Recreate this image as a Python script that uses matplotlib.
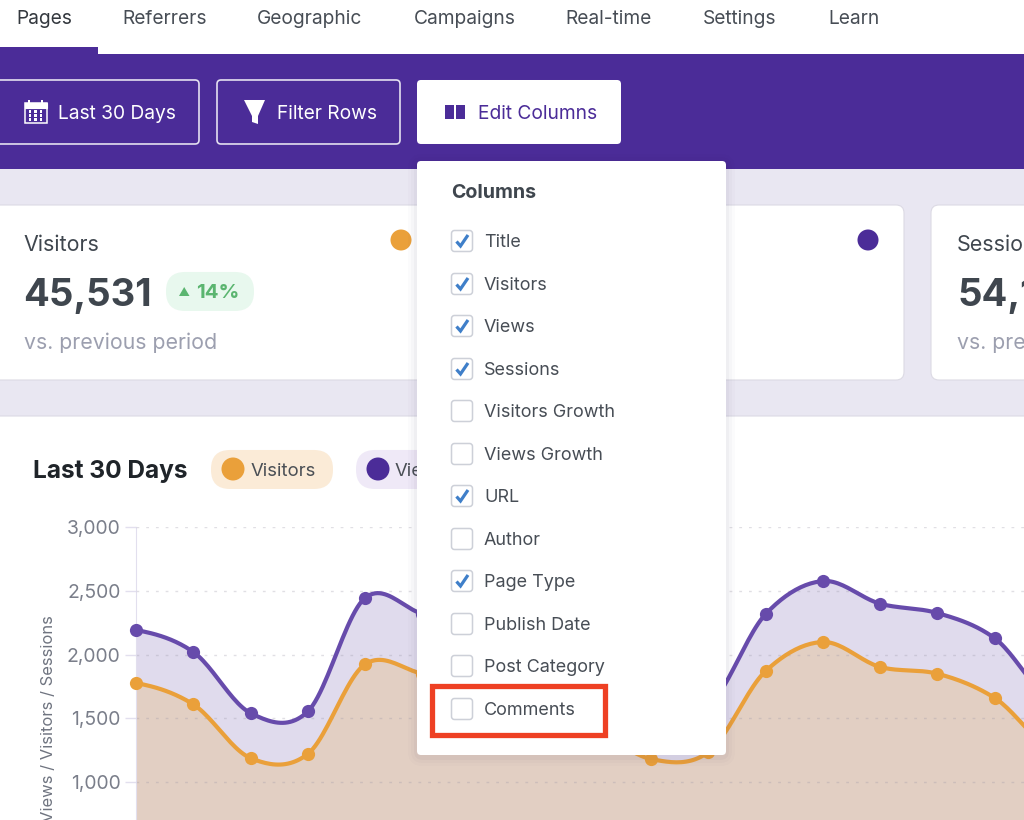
import numpy as np
import matplotlib
matplotlib.use('Agg')
import matplotlib.pyplot as plt
from matplotlib.patches import FancyBboxPatch, Rectangle, Circle, Polygon
from matplotlib.ticker import StrMethodFormatter

plt.rcParams['font.family'] = ['Inter', 'DejaVu Sans']

tabs = ['Pages', 'Referrers', 'Geographic', 'Campaigns', 'Real-time', 'Settings', 'Learn']
tab_x = [16.5, 122.5, 257, 414, 565.5, 703, 828.5]

column_names = ['Title', 'Visitors', 'Views', 'Sessions', 'Visitors Growth', 'Views Growth',
                'URL', 'Author', 'Page Type', 'Publish Date', 'Post Category', 'Comments']
column_checked = [True, True, True, True, False, False, True, False, True, False, False, False]
column_y = [241, 284, 326, 369, 411, 454, 496, 539, 581, 624, 666, 709]

# points 6-8 and 10 are behind the dropdown so they are guesses
views_values = [2192, 2020, 1541, 1553, 2443, 2320, 2200, 2000, 1750, 1500, 1590, 2318, 2576, 2398, 2325, 2127, 1640]
visitors_values = [1776, 1609, 1188, 1220, 1923, 1850, 1750, 1600, 1420, 1180, 1235, 1871, 2098, 1902, 1849, 1659, 1260]
y_ticks = [1000, 1500, 2000, 2500, 3000]

PURPLE = '#4B2C98'
LINE_PURPLE = '#674BAB'
ORANGE = '#EAA03A'
BG = '#E9E7F2'
TEXT = '#474D55'
LILAC = '#E2DFEE'


def px(size):
    return size * 0.72


def box(ax, x0, y0, x1, y1, radius=4, **kw):
    p = FancyBboxPatch((x0, y0), x1 - x0, y1 - y0, boxstyle=f'round,pad=0,rounding_size={radius}', **kw)
    ax.add_patch(p)
    return p


def label(ax, x, y, s, size, color=TEXT, weight='normal', **kw):
    ax.text(x, y, s, fontsize=px(size), color=color, fontweight=weight, va='baseline', **kw)


def smooth_curve(values, tension=0.16, steps=24):
    # bezier through the points, same look as the chart lib
    y = np.asarray(values, dtype=float)
    x = np.arange(len(y), dtype=float)
    dy = np.zeros_like(y)
    dy[1:-1] = (y[2:] - y[:-2]) * tension
    dy[0] = (y[1] - y[0]) * tension
    dy[-1] = (y[-1] - y[-2]) * tension
    xs, ys = [], []
    t = np.linspace(0, 1, steps)
    for i in range(len(y) - 1):
        p0, p1, p2, p3 = y[i], y[i] + dy[i], y[i + 1] - dy[i + 1], y[i + 1]
        ys.append((1 - t) ** 3 * p0 + 3 * (1 - t) ** 2 * t * p1 + 3 * (1 - t) * t ** 2 * p2 + t ** 3 * p3)
        xs.append(x[i] + t)
    return np.concatenate(xs), np.concatenate(ys)


# 8.2 * 100 floors to 819 px, so nudge the height
fig = plt.figure(figsize=(10.24, 8.2001), dpi=100)
fig.patch.set_facecolor(BG)


def page_axes(z):
    a = fig.add_axes([0, 0, 1, 1], zorder=z)
    a.set_xlim(0, 1024)
    a.set_ylim(820, 0)
    a.axis('off')
    a.patch.set_alpha(0)
    return a


ui = page_axes(0)

# header and tabs
ui.add_patch(Rectangle((0, 0), 1024, 54, color='white', lw=0))
ui.add_patch(Rectangle((0, 54), 1024, 115, color=PURPLE, lw=0))
ui.add_patch(Rectangle((0, 47), 98, 8, color=PURPLE, lw=0))
for name, x in zip(tabs, tab_x):
    label(ui, x, 24, name, 19.2, color='#33383E' if name == 'Pages' else TEXT)

# toolbar buttons
box(ui, -10, 80, 199, 144, fc='none', ec='#E4E0F0', lw=1.2)
box(ui, 217, 80, 400, 144, fc='none', ec='#E4E0F0', lw=1.2)
box(ui, 417, 80, 621, 144, fc='white', ec='none')
label(ui, 58, 119, 'Last 30 Days', 19.2, color='white')
label(ui, 277, 119, 'Filter Rows', 19.2, color='white')
label(ui, 478, 119, 'Edit Columns', 19.2, color=PURPLE)

# calendar icon
ui.add_patch(Rectangle((24.5, 103), 22, 20, fc='none', ec='white', lw=1.1))
ui.add_patch(Rectangle((24.5, 103), 22, 5, fc='white', ec='white', lw=0.8))
for cx in (29, 42):
    ui.add_patch(Rectangle((cx - 1, 100), 2, 5, fc='white', ec='none'))
for cx in (30, 35.5, 41):
    for cy in (111.5, 115.5, 119.5):
        ui.add_patch(Rectangle((cx - 1.2, cy - 1.2), 2.4, 2.4, fc='white', ec='none'))
# funnel and columns icons
ui.add_patch(Polygon([(244, 100), (265, 100), (258, 116), (258, 124), (252, 122), (252, 116)], fc='white', ec='none'))
ui.add_patch(Rectangle((445, 105), 8.5, 14, fc=PURPLE, ec='none'))
ui.add_patch(Rectangle((456, 105), 8.5, 14, fc=PURPLE, ec='none'))

# stat cards
box(ui, -10, 205, 465, 380, radius=8, fc='white', ec='#DCDAE4', lw=0.8)
box(ui, 489, 205, 904, 380, radius=8, fc='white', ec='#DCDAE4', lw=0.8)
box(ui, 931, 205, 1040, 380, radius=8, fc='white', ec='#DCDAE4', lw=0.8)
label(ui, 23.5, 251, 'Visitors', 21.5, color='#3F464E')
label(ui, 23.5, 306, '45,531', 38.2, color='#3F464E', weight='bold')
label(ui, 24, 349, 'vs. previous period', 21.3, color='#9C9FAF')
box(ui, 166, 272, 254, 311, radius=19, fc='#E8F8EE', ec='none')
ui.add_patch(Polygon([(179, 296), (189.5, 296), (184.2, 287)], fc='#5BB570', ec='none'))
label(ui, 196, 298, '14%', 20.5, color='#5BB570', weight='bold')
ui.add_patch(Circle((401, 240), 10.5, fc=ORANGE, ec='none'))
ui.add_patch(Circle((868, 240), 10.5, fc=PURPLE, ec='none'))
label(ui, 957, 251, 'Sessions', 21.5, color='#3F464E')
label(ui, 957, 306, '54,1', 38.2, color='#3F464E', weight='bold')
label(ui, 957, 349, 'vs. previous period', 21.3, color='#9C9FAF')

# chart card
box(ui, -10, 416, 1040, 840, radius=8, fc='white', ec='#DCDAE4', lw=0.8)
label(ui, 33, 478, 'Last 30 Days', 24.5, color='#1F2429', weight='bold')
box(ui, 211, 450, 333, 489, radius=19, fc='#FBEBD7', ec='none')
ui.add_patch(Circle((233, 469), 11.5, fc=ORANGE, ec='none'))
label(ui, 251, 476, 'Visitors', 18.5, color='#4A4F55')
box(ui, 356, 450, 470, 489, radius=19, fc='#EFE9F7', ec='none')
ui.add_patch(Circle((378, 469), 11.5, fc=PURPLE, ec='none'))
label(ui, 395, 476, 'Views', 18.5, color='#4A4F55')
ui.text(49, 615, 'Views / Visitors / Sessions', fontsize=px(16.6), color='#6F7480',
        rotation=90, ha='center', va='top')

# the chart itself
ax = fig.add_axes([136 / 1024, 0, (1024 - 136) / 1024, (820 - 527) / 820], zorder=1)
ax.patch.set_alpha(0)
xs, ys_views = smooth_curve(views_values)
_, ys_visitors = smooth_curve(visitors_values)
ax.fill_between(xs, ys_views, 702, color='#E0DBED', lw=0, zorder=1)
ax.fill_between(xs, ys_visitors, 702, color='#E2CFC3', lw=0, zorder=1.1)
ax.plot(xs, ys_views, color=LINE_PURPLE, lw=3, zorder=3, clip_on=False)
ax.plot(xs, ys_visitors, color=ORANGE, lw=3, zorder=3, clip_on=False)
idx = np.arange(len(views_values))
ax.plot(idx, views_values, 'o', color=LINE_PURPLE, ms=9.5, mew=0, zorder=4, clip_on=False)
ax.plot(idx, visitors_values, 'o', color=ORANGE, ms=9.5, mew=0, zorder=4, clip_on=False)

ax.set_xlim(0, (1024 - 136) / 57.25)
ax.set_ylim(702, 3000)
ax.set_yticks(y_ticks)
ax.yaxis.set_major_formatter(StrMethodFormatter('{x:,.0f}'))
ax.tick_params(axis='y', length=8, width=1, color=LILAC, labelsize=px(19.3), labelcolor='#7A7E8A', pad=3)
ax.set_xticks([])
for side in ('top', 'right', 'bottom'):
    ax.spines[side].set_visible(False)
ax.spines['left'].set_color(LILAC)
ax.set_axisbelow(False)
ax.grid(axis='y', color='#9A96A6', alpha=0.3, lw=1, linestyle=(0, (2, 5)))

# dropdown goes over the chart
top = page_axes(2)
for grow, alpha in ((9, 0.015), (6, 0.02), (3, 0.03)):
    box(top, 417 - grow, 161 - grow + 2, 726 + grow, 755 + grow + 2, radius=6 + grow, fc='#2A2050', ec='none', alpha=alpha)
box(top, 417, 161, 726, 755, radius=4, fc='white', ec='none')
label(top, 451, 198, 'Columns', 19.6, color='#3F464E', weight='bold')
for name, checked, y in zip(column_names, column_checked, column_y):
    box(top, 451.5, y - 10.5, 472.5, y + 10.5, radius=3, fc='white', ec='#CDD0D8', lw=1.1)
    if checked:
        top.plot([456.5, 460.5, 468], [y + 0.5, y + 5, y - 6], color='#3F7FC9', lw=2.3,
                 solid_capstyle='butt', solid_joinstyle='miter')
    label(top, 484, y + 6, name, 18)
top.add_patch(Rectangle((431.5, 686.5), 173, 49, fc='none', ec='#EE4023', lw=3.8))

fig.savefig('out.png', dpi=100, facecolor=fig.get_facecolor())
